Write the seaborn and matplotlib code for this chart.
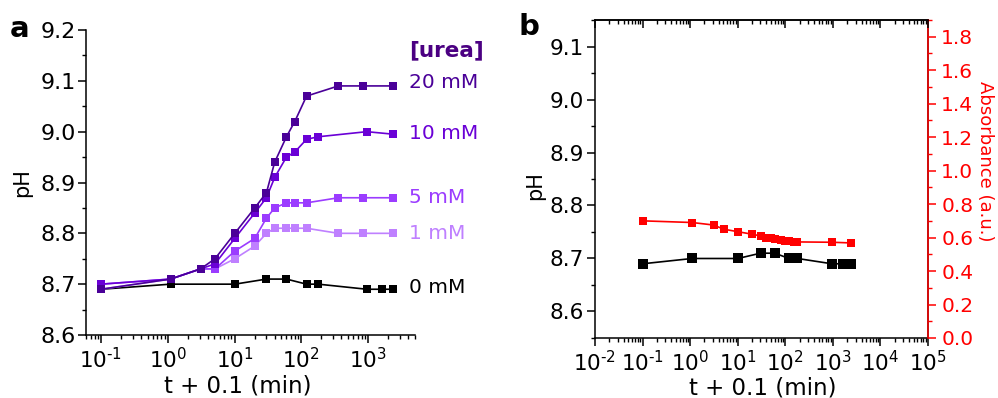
import numpy as np
import pandas as pd
import matplotlib
matplotlib.use('Agg')
import matplotlib.pyplot as plt
import matplotlib.transforms as mtransforms
from matplotlib.ticker import (LogLocator, FuncFormatter, MultipleLocator, NullFormatter,
                               FormatStrFormatter)
import seaborn as sns

# panel a: pH vs time for several urea concentrations
t_20 = [0.1, 1.1, 3.1, 5.1, 10.1, 20.1, 30.1, 40, 60, 80, 120, 360, 840, 2400]
ph_20 = [8.69, 8.71, 8.73, 8.75, 8.80, 8.85, 8.88, 8.94, 8.99, 9.02, 9.07, 9.09, 9.09, 9.09]
t_10 = [0.1, 1.1, 3.1, 5.1, 10.1, 20.1, 30.1, 40, 60, 80, 120, 180, 960, 2400]
ph_10 = [8.70, 8.71, 8.73, 8.74, 8.79, 8.84, 8.87, 8.91, 8.95, 8.96, 8.985, 8.99, 9.00, 8.995]
t_5 = [0.1, 1.1, 3.1, 5.1, 10.1, 20.1, 30.1, 40, 60, 80, 120, 360, 840, 2400]
ph_5 = [8.70, 8.71, 8.73, 8.73, 8.765, 8.79, 8.83, 8.85, 8.86, 8.86, 8.86, 8.87, 8.87, 8.87]
t_1 = [0.1, 1.1, 3.1, 5.1, 10.1, 20.1, 30.1, 40, 60, 80, 120, 360, 840, 2400]
ph_1 = [8.69, 8.71, 8.73, 8.73, 8.75, 8.775, 8.80, 8.81, 8.81, 8.81, 8.81, 8.80, 8.80, 8.80]
t_0 = [0.1, 1.1, 10.1, 30.1, 60, 120, 180, 960, 1620, 2400]
ph_0 = [8.69, 8.70, 8.70, 8.71, 8.71, 8.70, 8.70, 8.69, 8.69, 8.69]

labels_a = ['20 mM', '10 mM', '5 mM', '1 mM', '0 mM']
label_y = [9.096, 8.997, 8.871, 8.80, 8.694]
colors_a = ['#4a0098', '#6a00d6', '#9b3cff', '#bf80ff', 'black']

# panel b: pH (0 mM) and absorbance
t_b = [0.1, 1.1, 10.1, 30.1, 60, 120, 180, 960, 1620, 2400]
ph_b = [8.69, 8.70, 8.70, 8.71, 8.71, 8.70, 8.70, 8.69, 8.69, 8.69]
t_abs = [0.1, 1.1, 3.1, 5.1, 10.1, 20.1, 30.1, 40, 50, 60, 80, 100, 120, 150, 180, 960, 2400]
absorb = [0.70, 0.69, 0.675, 0.65, 0.635, 0.62, 0.61, 0.60, 0.595, 0.59, 0.585, 0.58,
          0.578, 0.575, 0.574, 0.572, 0.568]

sns.set_style('ticks')
plt.rcParams['font.family'] = ['DejaVu Sans']
plt.rcParams['mathtext.fontset'] = 'dejavusans'
plt.rcParams['axes.linewidth'] = 1.1
for key in ['text.color', 'axes.labelcolor', 'xtick.color', 'ytick.color', 'axes.edgecolor']:
    plt.rcParams[key] = 'black'


def pow10(v, pos):
    e = int(round(np.log10(v)))
    return '$10^{%s}$' % str(e).replace('-', '\u2010')


def log_axis(ax):
    ax.set_xscale('log')
    ax.xaxis.set_major_locator(LogLocator(base=10, numticks=20))
    ax.xaxis.set_major_formatter(FuncFormatter(pow10))
    ax.xaxis.set_minor_locator(LogLocator(base=10, subs=np.arange(2, 10), numticks=20))
    ax.xaxis.set_minor_formatter(NullFormatter())


fig = plt.figure(figsize=(9.98, 3.98), dpi=100)
ax1 = fig.add_axes([0.0862, 0.1583, 0.3296, 0.7663])
ax2 = fig.add_axes([0.5962, 0.1508, 0.3337, 0.7989])

# ---- panel a
series = [(t_20, ph_20), (t_10, ph_10), (t_5, ph_5), (t_1, ph_1), (t_0, ph_0)]
for (tt, pp), c in zip(reversed(series), reversed(colors_a)):
    df = pd.DataFrame({'t': tt, 'pH': pp})
    sns.lineplot(data=df, x='t', y='pH', ax=ax1, color=c, marker='s', markersize=6,
                 markeredgewidth=0, linewidth=1.2, estimator=None, sort=False)

log_axis(ax1)
ax1.set_xlim(0.0597, 5050)
ax1.set_ylim(8.6, 9.2)
ax1.yaxis.set_major_locator(MultipleLocator(0.1))
ax1.yaxis.set_minor_locator(MultipleLocator(0.05))
ax1.yaxis.set_major_formatter(FormatStrFormatter('%.1f'))
ax1.tick_params(axis='both', which='major', direction='out', length=6, width=1.1, labelsize=16)
ax1.tick_params(axis='both', which='minor', direction='out', length=3, width=1.0)
ax1.tick_params(axis='y', pad=1.5)
ax1.tick_params(axis='x', labelsize=15.5, pad=3)
sns.despine(ax=ax1)
ax1.set_xlabel('t + 0.1 (min)', fontsize=16.5)
ax1.set_ylabel('pH', fontsize=15)
ax1.xaxis.set_label_coords(0.462, -0.128)
ax1.yaxis.set_label_coords(-0.164, 0.5)

blend = mtransforms.blended_transform_factory(ax1.transAxes, ax1.transData)
ax1.text(0.982, 9.161, '[urea]', transform=blend, color='#4b0082', fontsize=15.5,
         fontweight='bold', va='center', ha='left')
for lab, yy, c in zip(labels_a, label_y, colors_a):
    ax1.text(0.982, yy, lab, transform=blend, color=c, fontsize=14.5, va='center', ha='left')

# ---- panel b
df_b = pd.DataFrame({'t': t_b, 'pH': ph_b})
sns.lineplot(data=df_b, x='t', y='pH', ax=ax2, color='black', marker='s', markersize=7.5,
             markeredgewidth=0, linewidth=1.2, estimator=None, sort=False)
log_axis(ax2)
ax2.set_xlim(1e-2, 1e5)
ax2.set_ylim(8.55, 9.15)
ax2.yaxis.set_major_locator(MultipleLocator(0.1))
ax2.yaxis.set_minor_locator(MultipleLocator(0.05))
ax2.yaxis.set_major_formatter(FormatStrFormatter('%.1f'))
ax2.tick_params(axis='both', which='major', direction='out', length=6, width=1.1, labelsize=15.5)
ax2.tick_params(axis='both', which='minor', direction='out', length=3, width=1.0)
ax2.tick_params(axis='y', pad=2)
ax2.tick_params(axis='x', pad=3)
ax2.set_xlabel('t + 0.1 (min)', fontsize=16.5)
ax2.set_ylabel('pH', fontsize=15)
ax2.xaxis.set_label_coords(0.505, -0.12)
ax2.yaxis.set_label_coords(-0.15, 0.48)

ax3 = ax2.twinx()
df_r = pd.DataFrame({'t': t_abs, 'A': absorb})
sns.lineplot(data=df_r, x='t', y='A', ax=ax3, color='red', marker='s', markersize=6,
             markeredgewidth=0, linewidth=1.2, estimator=None, sort=False)
ax3.set_ylim(0, 1.9)
ax3.yaxis.set_major_locator(MultipleLocator(0.2))
ax3.yaxis.set_minor_locator(MultipleLocator(0.1))
ax3.yaxis.set_major_formatter(FormatStrFormatter('%.1f'))
ax3.tick_params(axis='y', which='major', direction='out', length=6, width=1.1, labelsize=14.5,
                colors='red')
ax3.tick_params(axis='y', which='minor', direction='out', length=3, width=1.0, colors='red')
for s in ['left', 'top', 'bottom']:
    ax3.spines[s].set_visible(False)
ax3.spines['right'].set_color('red')
ax3.set_ylabel('Absorbance (a.u.)', fontsize=13, color='red', rotation=-90)
ax3.yaxis.set_label_coords(1.197, 0.557)

# top axis: ticks pointing inward, no labels
ax4 = ax2.twiny()
log_axis(ax4)
ax4.set_xlim(1e-2, 1e5)
ax4.tick_params(axis='x', which='major', direction='in', length=6, width=1.1, labeltop=False)
ax4.tick_params(axis='x', which='minor', direction='in', length=3, width=1.0)
for s in ['left', 'right', 'bottom']:
    ax4.spines[s].set_visible(False)

fig.text(0.020, 0.928, 'a', fontsize=21, fontweight='bold', ha='center', va='center')
fig.text(0.530, 0.932, 'b', fontsize=21, fontweight='bold', ha='center', va='center')

fig.savefig('out.png', dpi=100)
